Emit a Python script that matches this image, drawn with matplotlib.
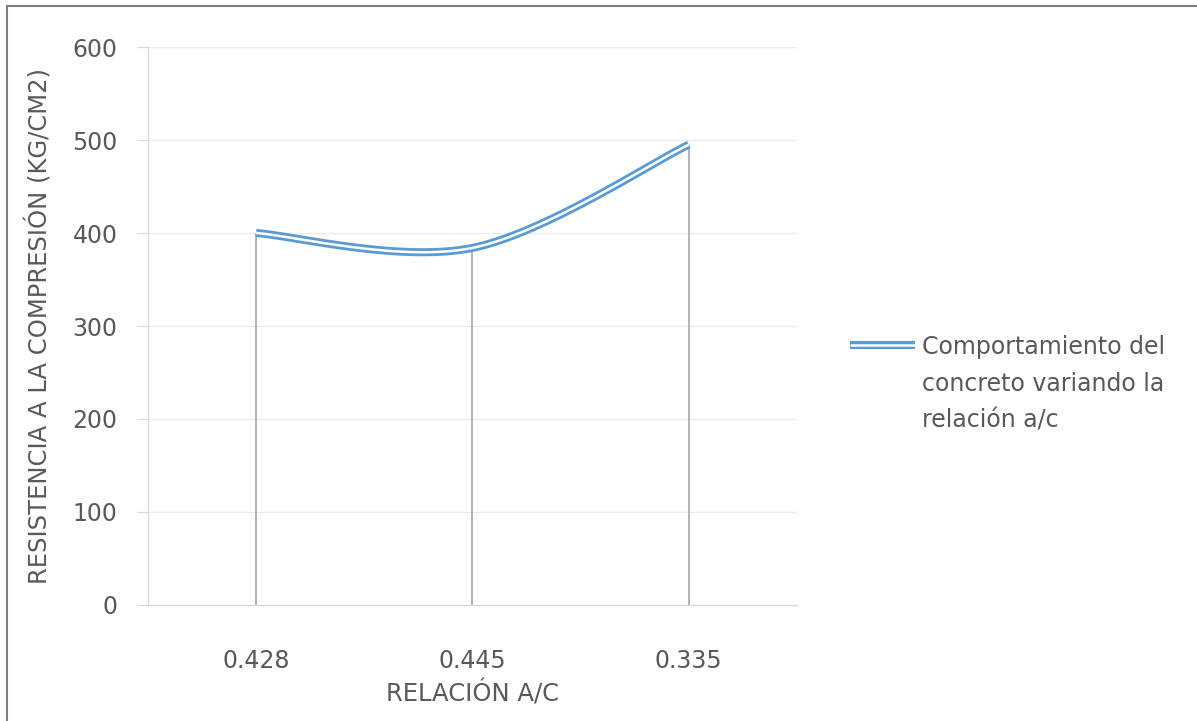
import numpy as np
import matplotlib
matplotlib.use('Agg')
import matplotlib.pyplot as plt
from matplotlib.lines import Line2D

plt.rcParams['font.family'] = ['DejaVu Sans']

categories = ['0.428', '0.445', '0.335']
resistencia = [400, 384, 495]
y_ticks = [0, 100, 200, 300, 400, 500, 600]

BLUE = '#5b9bd5'
TEXT = '#595959'
FONT = 17
LABEL_FONT = 17.5


def smooth(xs, ys, n=60):
    # bezier spline through the points, like the office "smoothed line"
    pts = np.column_stack([xs, ys]).astype(float)
    ext = np.vstack([pts[0], pts, pts[-1]])
    out = []
    for i in range(len(pts) - 1):
        p0, p1, p2, p3 = ext[i], ext[i + 1], ext[i + 2], ext[i + 3]
        c1 = p1 + (p2 - p0) / 6.0
        c2 = p2 - (p3 - p1) / 6.0
        t = np.linspace(0, 1, n)[:, None]
        seg = ((1 - t) ** 3) * p1 + 3 * ((1 - t) ** 2) * t * c1 + 3 * (1 - t) * t ** 2 * c2 + t ** 3 * p2
        out.append(seg if i == 0 else seg[1:])
    seg = np.vstack(out)
    return seg[:, 0], seg[:, 1]


fig = plt.figure(figsize=(11.97, 7.21), dpi=100)
ax = fig.add_axes([0.1236, 0.1609, 0.6658 - 0.1236, 0.9348 - 0.1609])

x = np.arange(len(categories))
ax.set_xlim(-0.5, len(categories) - 0.5)
ax.set_ylim(0, 600)

for yv in y_ticks[1:]:
    ax.axhline(yv, color='#ececec', lw=1.0, zorder=0)

ax.vlines(x, 0, resistencia, color='#a6a6a6', lw=1.2, zorder=2)

sx, sy = smooth(x, resistencia)
ax.plot(sx, sy, color=BLUE, lw=5.8, solid_capstyle='butt', zorder=3)
ax.plot(sx, sy, color='white', lw=1.8, solid_capstyle='butt', zorder=4)

for side in ['top', 'right']:
    ax.spines[side].set_visible(False)
for side in ['left', 'bottom']:
    ax.spines[side].set_color('#d9d9d9')
    ax.spines[side].set_linewidth(1.0)

ax.set_xticks(x)
ax.set_xticklabels(categories)
ax.set_yticks(y_ticks)
ax.tick_params(axis='x', length=0, pad=32, labelsize=FONT, labelcolor=TEXT)
ax.tick_params(axis='y', length=8, color='#d9d9d9', pad=14, labelsize=FONT, labelcolor=TEXT)

ax.set_xlabel('RELACIÓN A/C', fontsize=LABEL_FONT, color=TEXT, labelpad=5)
ax.set_ylabel('RESISTENCIA A LA COMPRESIÓN (KG/CM2)', fontsize=LABEL_FONT, color=TEXT, labelpad=14)

# legend drawn by hand so the key sits beside the first text line
ly = 1 - 345 / 721
fig.add_artist(Line2D([850 / 1197, 915 / 1197], [ly, ly], color=BLUE, lw=5.8, solid_capstyle='butt'))
fig.add_artist(Line2D([850 / 1197, 915 / 1197], [ly, ly], color='white', lw=1.8, solid_capstyle='butt'))
fig.text(922 / 1197, 1 - 335 / 721, 'Comportamiento del\nconcreto variando la\nrelación a/c',
         fontsize=FONT, color=TEXT, va='top', ha='left', linespacing=1.66)

# outer frame, only top and left edges show
fig.add_artist(Line2D([7 / 1197, 7 / 1197], [0, 1 - 6 / 721], color='#7f7f7f', lw=1.5))
fig.add_artist(Line2D([7 / 1197, 1], [1 - 6 / 721, 1 - 6 / 721], color='#7f7f7f', lw=1.5))

fig.savefig('out.png', dpi=100, facecolor='white')
